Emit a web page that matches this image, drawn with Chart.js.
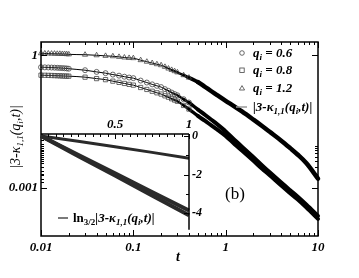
<!DOCTYPE html>
<html>
<head>
<meta charset="utf-8">
<script src="https://cdn.jsdelivr.net/npm/chart.js"></script>
<style>
body { margin: 0; background: #fff; }
#wrap { position: relative; width: 359px; height: 278px; overflow: hidden; font-family: "Liberation Serif", serif; }
canvas, svg { position: absolute; left: 0; top: 0; }
.lbl { position: absolute; white-space: nowrap; color: #000; font-weight: bold; font-style: italic; font-size: 13px; line-height: 13px; }
.lbl sub { font-size: 9px; line-height: 0; position: relative; top: 3px; vertical-align: baseline; }
.up { font-style: normal; }
</style>
</head>
<body>
<div id="wrap">
  <canvas id="main" width="359" height="278"></canvas>
  <canvas id="inset" width="185" height="125" style="left:30px;top:115px"></canvas>
  <svg width="359" height="278">
    <circle cx="242" cy="53" r="2.3" fill="none" stroke="#444" stroke-width="0.8"/>
    <rect x="239.8" y="68" width="4.4" height="4.4" fill="none" stroke="#444" stroke-width="0.8"/>
    <polygon points="242,85.6 239.4,90 244.6,90" fill="none" stroke="#444" stroke-width="0.8"/>
    <line x1="236" y1="107" x2="247" y2="107" stroke="#999" stroke-width="1.5"/>
    <line x1="58" y1="218" x2="68" y2="218" stroke="#222" stroke-width="1.2"/>
  </svg>
  <div class="lbl" style="left:253px;top:46px">q<sub>i</sub> = 0.6</div>
  <div class="lbl" style="left:253px;top:63px">q<sub>i</sub> = 0.8</div>
  <div class="lbl" style="left:253px;top:81px">q<sub>i</sub> = 1.2</div>
  <div class="lbl" style="left:253px;top:100px">|3-κ<sub>1,1</sub>(q<sub>i</sub>,t)|</div>
  <div class="lbl" style="left:73px;top:211px"><span class="up">ln</span><sub class="up">3/2</sub>|3-κ<sub>1,1</sub>(q<sub>i</sub>,t)|</div>
  <div class="lbl" style="left:225px;top:185px;font-weight:normal;font-style:normal;font-size:17px;line-height:17px">(b)</div>
  <div class="lbl" style="left:176px;top:250px;font-size:14px">t</div>
  <div class="lbl" style="left:15px;top:137px;font-weight:normal;font-size:14px;transform:translate(-50%,-50%) rotate(-90deg)">|3-κ<sub>1,1</sub>(q<sub>i</sub>,t)|</div>
</div>
<script>
// main panel: |3-k| vs t, log-log
const tTimes = [0.01, 0.011, 0.012, 0.013, 0.014, 0.015, 0.016, 0.017, 0.018, 0.019, 0.02,
  0.03, 0.04, 0.05, 0.06, 0.07, 0.08, 0.09, 0.1,
  0.12, 0.14, 0.16, 0.18, 0.2, 0.22, 0.24, 0.26, 0.28, 0.3,
  0.35, 0.4, 0.5, 0.6, 0.7, 0.8, 1,
  1.25, 1.5, 2, 2.5, 3, 4, 5, 6, 7.5, 10]
const q06 = [0.536, 0.533, 0.530, 0.527, 0.524, 0.520, 0.516, 0.512, 0.508, 0.503, 0.496,
  0.459, 0.42, 0.393, 0.365, 0.345, 0.327, 0.313, 0.303,
  0.267, 0.241, 0.219, 0.203, 0.190, 0.171, 0.156, 0.143, 0.132, 0.124,
  0.101, 0.0851, 0.0590, 0.0443, 0.0345, 0.0278, 0.0188,
  0.0120, 0.0085, 0.00487, 0.00315, 0.00222, 0.00130, 0.000873, 0.000633, 0.000411, 0.000228]
const q08 = [0.354, 0.352, 0.350, 0.348, 0.346, 0.344, 0.342, 0.340, 0.338, 0.337, 0.336,
  0.319, 0.296, 0.280, 0.259, 0.243, 0.230, 0.219, 0.2105,
  0.186, 0.168, 0.153, 0.141, 0.132, 0.1205, 0.112, 0.1035, 0.0966, 0.0908,
  0.0729, 0.0604, 0.0421, 0.0325, 0.0257, 0.0212, 0.0149,
  0.00962, 0.0069, 0.00404, 0.00265, 0.0019, 0.00111, 0.000747, 0.000542, 0.000352, 0.000195]
const q12 = [1.11, 1.10, 1.10, 1.09, 1.09, 1.08, 1.08, 1.07, 1.07, 1.06, 1.05,
  1.03, 1.00, 0.97, 0.95, 0.92, 0.89, 0.87, 0.86,
  0.775, 0.714, 0.667, 0.627, 0.595, 0.546, 0.50, 0.466, 0.436, 0.41,
  0.354, 0.311, 0.247, 0.191, 0.153, 0.127, 0.093,
  0.0689, 0.0534, 0.0347, 0.0246, 0.0184, 0.0116, 0.00785, 0.00564, 0.00357, 0.0016]
const xTickValues = [0.01, 0.1, 1, 10]
const yTickValues = [0.001, 1]

// inset: ln_{3/2}|3-k| vs t, linear
const insetT = [0, 0.25, 0.5, 0.75, 1]
const lnQ06 = [0, -0.97, -1.93, -2.9, -3.85]
const lnQ08 = [0, -1.03, -2.05, -3.08, -4.1]
const lnQ12 = [0, -0.28, -0.56, -0.85, -1.15]
const insetXTicks = [0.5, 1]
const insetYTicks = [0, -2, -4]

const tickFont = { family: '"Liberation Serif", serif', size: 13, weight: 'bold', style: 'italic' }

const pts = (xs, ys) => xs.map((x, i) => ({ x: x, y: ys[i] }))

// markers pile up at large t in the original, so there it is just a thick black band
const band = w => ctx => {
  const t = ctx.p0.parsed.x
  if (t < 0.2) return 1
  if (t < 0.45) return 1 + (w - 1) * (t - 0.2) / 0.25
  return w
}

const series = (data, style, r, w) => ({
  data: data,
  showLine: true,
  borderColor: '#000',
  borderWidth: 1,
  borderCapStyle: 'round',
  borderJoinStyle: 'round',
  cubicInterpolationMode: 'monotone',
  segment: { borderWidth: band(w) },
  pointStyle: style,
  pointRadius: ctx => (ctx.raw && ctx.raw.x > 0.45 ? 0 : r),
  pointBorderWidth: 0.8,
  pointBorderColor: '#444',
  pointBackgroundColor: 'rgba(255,255,255,0)',
  clip: 5
})

function line(ctx, x1, y1, x2, y2) {
  ctx.beginPath()
  ctx.moveTo(x1, y1)
  ctx.lineTo(x2, y2)
  ctx.stroke()
}

const mainFrame = {
  id: 'mainFrame',
  afterDraw(chart) {
    const { ctx, chartArea: a, scales: { x, y } } = chart
    ctx.save()
    ctx.strokeStyle = '#000'
    ctx.lineWidth = 1
    for (let d = -2; d <= 1; d++) {
      for (let m = 1; m < 10; m++) {
        const v = m * Math.pow(10, d)
        if (v > 10.001) break
        const px = Math.round(x.getPixelForValue(v)) + 0.5
        const len = m === 1 ? 6 : 3
        line(ctx, px, a.bottom, px, a.bottom - len)
        line(ctx, px, a.top, px, a.top + len)
      }
    }
    yTickValues.forEach(v => {
      const py = Math.round(y.getPixelForValue(v)) + 0.5
      line(ctx, a.left, py, a.left + 6, py)
      line(ctx, a.right, py, a.right - 6, py)
    })
    for (let m = 2; m < 10; m++) {
      const py = Math.round(y.getPixelForValue(m * 0.001)) + 0.5
      line(ctx, a.left, py, a.left + 3, py)
      line(ctx, a.right, py, a.right - 3, py)
    }
    ctx.lineWidth = 1.5
    ctx.strokeRect(a.left, a.top, a.right - a.left, a.bottom - a.top)
    ctx.restore()
  }
}

new Chart(document.getElementById('main'), {
  type: 'scatter',
  data: {
    datasets: [
      series(pts(tTimes, q06), 'circle', 2.5, 4),
      series(pts(tTimes, q08), 'rect', 3, 4),
      series(pts(tTimes, q12), 'triangle', 3, 4.5)
    ]
  },
  options: {
    responsive: false,
    animation: false,
    devicePixelRatio: 1,
    layout: { padding: { left: 0, top: 42, right: 41, bottom: 0 } },
    plugins: { legend: { display: false }, tooltip: { enabled: false } },
    scales: {
      x: {
        type: 'logarithmic', min: 0.01, max: 10,
        grid: { display: false, drawTicks: false }, border: { display: false },
        afterBuildTicks: s => { s.ticks = xTickValues.map(v => ({ value: v })) },
        afterFit: s => { s.height = 42 },
        ticks: { color: '#000', font: tickFont, padding: 4, autoSkip: false, maxRotation: 0, callback: v => String(v) }
      },
      y: {
        type: 'logarithmic', min: 8e-5, max: 2,
        grid: { display: false, drawTicks: false }, border: { display: false },
        afterBuildTicks: s => { s.ticks = yTickValues.map(v => ({ value: v })) },
        afterFit: s => { s.width = 41 },
        ticks: { color: '#000', font: tickFont, padding: 3, autoSkip: false, callback: v => String(v) }
      }
    }
  },
  plugins: [mainFrame]
})

const insetFrame = {
  id: 'insetFrame',
  afterDraw(chart) {
    const { ctx, chartArea: a, scales: { x, y } } = chart
    ctx.save()
    ctx.strokeStyle = '#000'
    ctx.lineWidth = 1
    for (let i = 1; i <= 20; i++) {
      const v = i * 0.05
      const px = Math.round(x.getPixelForValue(v)) + 0.5
      line(ctx, px, a.top, px, a.top + (i % 10 === 0 ? 5 : 3))
    }
    for (let v = 0; v >= -4; v--) {
      const py = Math.round(y.getPixelForValue(v)) + 0.5
      line(ctx, a.right, py, a.right - (v % 2 === 0 ? 5 : 3), py)
    }
    for (let i = 1; i <= 12; i++) {
      const py = Math.round(y.getPixelForValue(-0.2 * i)) + 0.5
      line(ctx, a.left, py, a.left + 3, py)
    }
    ctx.lineWidth = 1.5
    line(ctx, a.left, a.top, a.right, a.top)
    line(ctx, a.right, a.top, a.right, a.bottom)
    ctx.restore()
  }
}

const insetLine = (data, w) => ({
  data: data,
  showLine: true,
  borderColor: '#2a2a2a',
  borderWidth: w,
  pointRadius: 0,
  clip: 6
})

new Chart(document.getElementById('inset'), {
  type: 'scatter',
  data: {
    datasets: [
      insetLine(pts(insetT, lnQ06), 4),
      insetLine(pts(insetT, lnQ08), 4),
      insetLine(pts(insetT, lnQ12), 3)
    ]
  },
  options: {
    responsive: false,
    animation: false,
    devicePixelRatio: 1,
    layout: { padding: { left: 11, top: 0, right: 0, bottom: 4 } },
    plugins: { legend: { display: false }, tooltip: { enabled: false } },
    scales: {
      x: {
        type: 'linear', position: 'top', min: 0, max: 1,
        grid: { display: false, drawTicks: false }, border: { display: false },
        afterBuildTicks: s => { s.ticks = insetXTicks.map(v => ({ value: v })) },
        afterFit: s => { s.height = 19 },
        ticks: { color: '#000', font: tickFont, padding: 2, autoSkip: false, maxRotation: 0, callback: v => String(v) }
      },
      y: {
        type: 'linear', position: 'right', min: -4.85, max: 0.1,
        grid: { display: false, drawTicks: false }, border: { display: false },
        afterBuildTicks: s => { s.ticks = insetYTicks.map(v => ({ value: v })) },
        afterFit: s => { s.width = 26 },
        ticks: { color: '#000', font: { ...tickFont, size: 12 }, padding: 3, autoSkip: false, callback: v => String(v) }
      }
    }
  },
  plugins: [insetFrame]
})
</script>
</body>
</html>
